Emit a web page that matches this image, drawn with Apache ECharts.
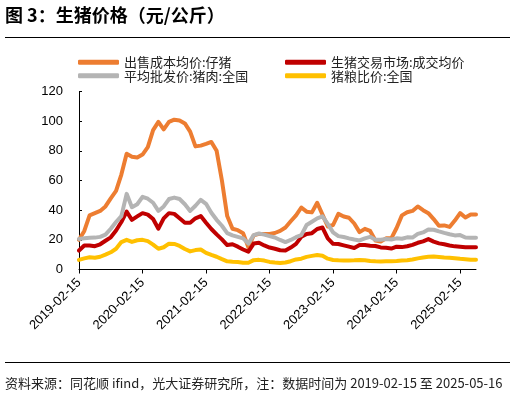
<!DOCTYPE html>
<html><head><meta charset="utf-8">
<script src="https://cdn.jsdelivr.net/npm/echarts@6/dist/echarts.min.js"></script>
<style>html,body{margin:0;padding:0;background:#fff}#c{width:515px;height:395px}</style>
</head><body><div id="c"></div>
<script>
// Monthly sample dates (mid-month)
const months = [
 '2019-02','2019-03','2019-04','2019-05','2019-06','2019-07','2019-08','2019-09','2019-10','2019-11','2019-12',
 '2020-01','2020-02','2020-03','2020-04','2020-05','2020-06','2020-07','2020-08','2020-09','2020-10','2020-11','2020-12',
 '2021-01','2021-02','2021-03','2021-04','2021-05','2021-06','2021-07','2021-08','2021-09','2021-10','2021-11','2021-12',
 '2022-01','2022-02','2022-03','2022-04','2022-05','2022-06','2022-07','2022-08','2022-09','2022-10','2022-11','2022-12',
 '2023-01','2023-02','2023-03','2023-04','2023-05','2023-06','2023-07','2023-08','2023-09','2023-10','2023-11','2023-12',
 '2024-01','2024-02','2024-03','2024-04','2024-05','2024-06','2024-07','2024-08','2024-09','2024-10','2024-11','2024-12',
 '2025-01','2025-02','2025-03','2025-04','2025-05'
];
const piglet = [
 20, 26, 36.5, 38, 39.5, 42.5, 48, 53, 64, 78,
 76, 75.5, 77.5, 82.5, 94, 99.5, 94.5, 99.5, 101, 100.5,
 98.5, 93, 83, 83.5, 84.7, 86, 80, 60, 36, 27.5,
 26.5, 24.5, 15, 23, 24, 24, 24, 24.6, 26, 28.3,
 32.5, 36.5, 41.8, 39, 38.5, 45, 37, 29, 30, 37.5,
 35.7, 34.9, 31, 25.2, 27.4, 26, 19.5, 18.8, 21, 21,
 28, 36.5, 38.6, 39.5, 42.5, 40, 38, 34, 29.5, 29.7,
 28.7, 33, 38, 35, 37, 37
];
const marketPrice = [
 12.8, 16.2, 16.2, 15.7, 17, 19.4, 21.7, 26.3, 32, 39,
 33.5, 35.8, 38, 37, 34, 27.5, 34.5, 38, 37.5, 34.5,
 31.5, 31.5, 34.5, 36, 31.5, 27.3, 23.7, 20.3, 16.5, 17,
 15.4, 13.5, 12, 17.5, 18, 16.2, 14.8, 14, 13, 12.8,
 14.8, 17.3, 22, 24, 24.5, 27.3, 28.3, 21, 17.3, 17.2,
 16.3, 15.4, 14.5, 16.5, 16.5, 16, 15.8, 14.9, 14.6, 14.1,
 15.4, 15.1, 15.7, 16.6, 18, 19, 20.5, 18.8, 17.6, 17,
 16.2, 15.6, 15.3, 15, 15, 15
];
const porkWholesale = [
 20.5, 21, 21.4, 21.5, 22, 23.5, 27.5, 32, 36, 51,
 42, 44, 49, 47.7, 45, 39.5, 42.5, 47.5, 48.5, 47.5,
 44, 39.5, 43, 47, 44.3, 38.3, 33.5, 29.5, 24.5, 23,
 22, 21, 17.5, 23.2, 24.3, 23.5, 22.5, 21.6, 19.9, 18.5,
 19.9, 21.8, 23.2, 30, 32.2, 34.5, 35.8, 30.7, 25, 22.5,
 21.9, 21, 20.2, 19.6, 21, 22, 20, 20.1, 20.5, 20.2,
 21, 20.7, 21.7, 21.5, 24, 25, 27, 26.8, 25.7, 24.7,
 23.8, 23, 23.2, 21.6, 21.4, 21.4
];
const hogGrainRatio = [
 6.5, 7.5, 8.2, 7.9, 8.6, 10, 11.6, 14, 18.5, 20,
 18.6, 19.7, 20, 19.1, 16.8, 14, 15, 17.4, 17.2, 15.9,
 13.8, 12.2, 13.1, 13.5, 11.2, 9.8, 8.6, 7, 5.5, 5.2,
 5.1, 4.6, 4.5, 6.3, 6.5, 6, 5.1, 4.7, 4.4, 4.7,
 5.6, 6.8, 7.3, 8.5, 9.2, 9.8, 9.3, 7.3, 6.4, 6.2,
 6.1, 6.1, 6.2, 6.4, 6.3, 5.8, 5.5, 5.4, 5.5, 5.6,
 5.8, 6.1, 6.3, 6.7, 7.5, 8.1, 8.6, 8.7, 8.4, 8.1,
 7.9, 7.6, 7.2, 6.9, 6.5, 6.5
];
const seriesNames = ['出售成本均价:仔猪','生猪交易市场:成交均价','平均批发价:猪肉:全国','猪粮比价:全国'];
const seriesColors = ['#ED7D31','#C00000','#B4B4B4','#FFC000'];
const xTickLabels = ['2019-02-15','2020-02-15','2021-02-15','2022-02-15','2023-02-15','2024-02-15','2025-02-15'];
const xTickValues = [0,1,2,3,4,5,6];

function toX(s){ const p = s.split('-').map(Number); return (p[0]-2019) + (p[1]-2)/12; }
const allValues = [piglet, marketPrice, porkWholesale, hogGrainRatio];

const chart = echarts.init(document.getElementById('c'), null, {renderer:'canvas'});
const cjk = '"Noto Sans CJK SC", "Noto Sans", sans-serif';
const latin = '"Liberation Sans", Arial, sans-serif';
const legendText = {fontSize:13, lineHeight:13, fontFamily:cjk, color:'#222'};
chart.setOption({
  animation:false,
  grid:{left:79, right:39, top:91.5, bottom:125.5, containLabel:false},
  legend:[
    {left:78, top:55.8, padding:0, orient:'vertical', itemWidth:41, itemHeight:5, itemGap:0.4, icon:'roundRect',
     data:[seriesNames[0], seriesNames[2]], textStyle:legendText},
    {left:285, top:55.8, padding:0, orient:'vertical', itemWidth:41, itemHeight:5, itemGap:0.4, icon:'roundRect',
     data:[seriesNames[1], seriesNames[3]], textStyle:legendText}
  ],
  xAxis:{
    type:'value', min:0, max:6.25,
    axisLine:{lineStyle:{color:'#000', width:1}},
    axisTick:{show:true, customValues:xTickValues, length:4, inside:false, lineStyle:{color:'#000'}},
    axisLabel:{customValues:xTickValues, rotate:45, margin:11, fontSize:13, fontFamily:latin, color:'#000',
      formatter:(v)=>xTickLabels[Math.round(v)]},
    splitLine:{show:false}
  },
  yAxis:{
    type:'value', min:0, max:120, interval:20,
    axisLine:{show:true, lineStyle:{color:'#000', width:1}},
    axisTick:{show:true, inside:true, length:3, lineStyle:{color:'#000'}},
    axisLabel:{margin:16, fontSize:13, fontFamily:latin, color:'#000'},
    splitLine:{show:false}
  },
  series: seriesNames.map((n,i)=>({
    name:n, type:'line', showSymbol:false, symbol:'none', smooth:false,
    color:seriesColors[i],
    lineStyle:{width:4, color:seriesColors[i], cap:'round', join:'round'},
    data: months.map((m,k)=>[toX(m), allValues[i][k]])
  })),
  graphic:[
    {type:'text', x:5, y:15, style:{text:'图 3：生猪价格（元/公斤）', font:'bold 18px '+cjk, fill:'#000', textVerticalAlign:'middle'}},
    {type:'line', shape:{x1:5, y1:37.5, x2:510, y2:37.5}, style:{stroke:'#000', lineWidth:1}},
    {type:'line', shape:{x1:5, y1:362.5, x2:510, y2:362.5}, style:{stroke:'#000', lineWidth:1}},
    {type:'text', x:5, y:383, style:{text:'资料来源：同花顺 ifind，光大证券研究所，注：数据时间为 2019-02-15 至 2025-05-16', font:'13px '+cjk, fill:'#222', textVerticalAlign:'middle'}}
  ]
});
</script></body></html>
